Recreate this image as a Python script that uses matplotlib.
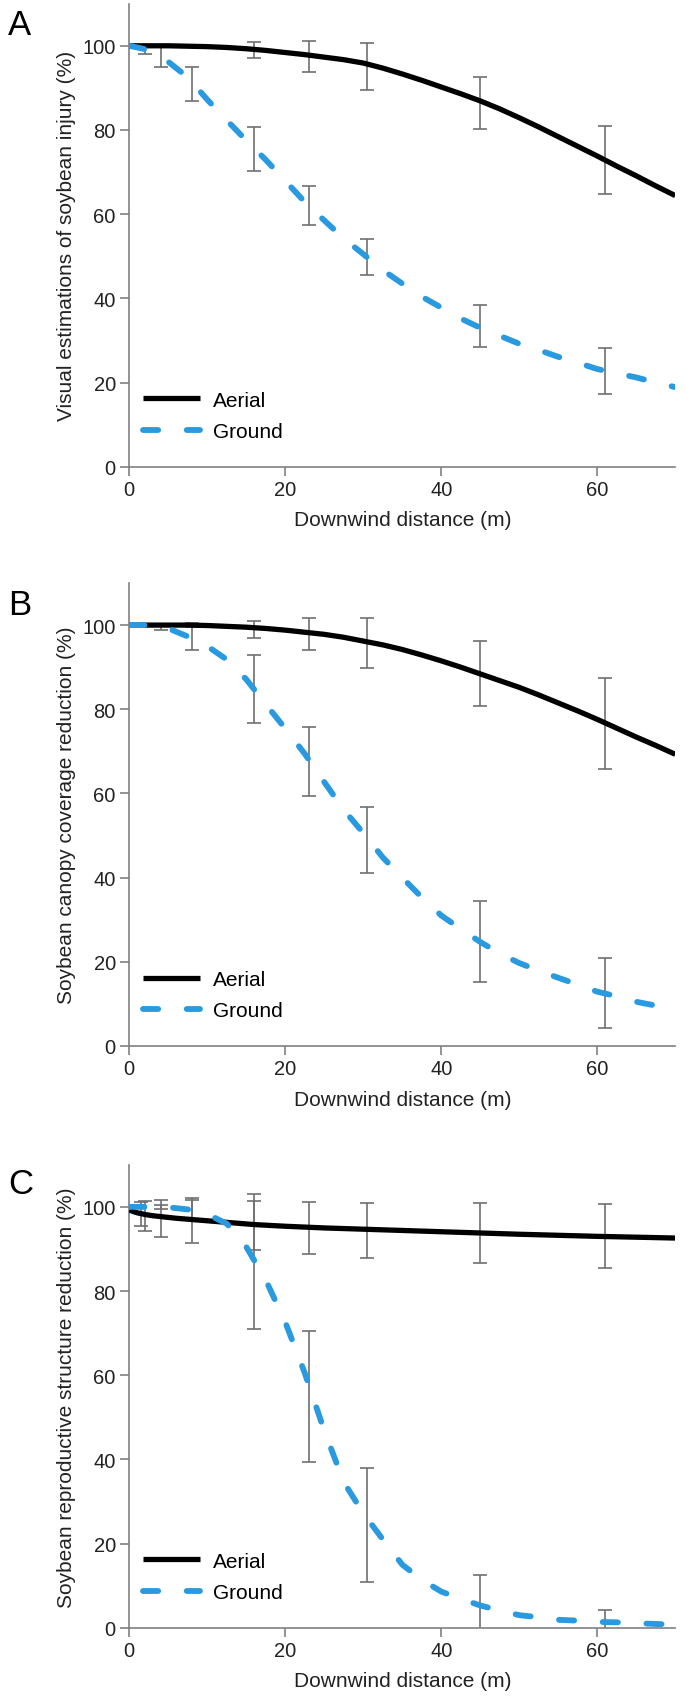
import numpy as np
import matplotlib
matplotlib.use("Agg")
import matplotlib.pyplot as plt

plt.rcParams['font.family'] = ['Liberation Sans', 'DejaVu Sans']

step_x = np.arange(0, 70.1, 2.5)

a_aer_fit = [100, 100, 100, 99.9, 99.8, 99.6, 99.3, 98.9, 98.4, 97.9, 97.3, 96.7, 95.9, 94.7, 93.3,
             91.8, 90.2, 88.6, 86.9, 85.0, 82.9, 80.7, 78.4, 76.1, 73.8, 71.4, 69.1, 66.7, 64.4]
a_gnd_fit = [100, 99, 96.2, 92.5, 87.2, 82.3, 77.5, 72.9, 67.9, 62.9, 58.5, 54.2, 50.5, 46.7, 43.5,
             40.4, 37.8, 35.2, 33.0, 31.1, 29.2, 27.7, 26.1, 24.7, 23.2, 22.2, 21.2, 20.0, 18.9]

b_aer_fit = [100, 100, 100, 100, 99.9, 99.7, 99.5, 99.2, 98.8, 98.3, 97.8, 97.1, 96.2, 95.3, 94.2,
             92.9, 91.5, 90.0, 88.4, 86.8, 85.2, 83.4, 81.5, 79.6, 77.6, 75.5, 73.4, 71.4, 69.3]
b_gnd_fit = [100, 100, 99.2, 97.3, 95.0, 91.8, 87.1, 81.2, 75.4, 69.4, 62.7, 56.1, 50.6, 44.8, 40.0,
             35.3, 31.0, 27.8, 24.7, 22.0, 19.7, 17.9, 16.2, 14.6, 12.9, 11.8, 10.5, 9.6, 8.8]

c_aer_x = [0, 0.5, 1, 2, 3, 4, 6, 8, 12, 16, 20, 25, 30, 40, 50, 60, 70]
c_aer_fit = [99.3, 98.9, 98.6, 98.2, 97.9, 97.7, 97.3, 97.0, 96.4, 95.8, 95.4, 95.0, 94.7, 94.1,
             93.5, 93.0, 92.6]
c_gnd_fit = [100, 100, 99.9, 99.4, 98.3, 96.0, 90.5, 82.6, 72.6, 60.5, 46.8, 34.6, 27.2, 21.0, 15.0,
             11.4, 8.6, 6.9, 5.3, 4.1, 3.0, 2.5, 1.9, 1.7, 1.4, 1.3, 1.1, 0.9, 0.8]

# error bars: low / high ends
a_aer_x = [16, 23, 30.5, 45, 61]
a_aer_lo = [97.0, 93.8, 89.5, 80.2, 64.8]
a_aer_hi = [100.8, 101.2, 100.6, 92.6, 81.0]
a_gnd_x = [2, 4, 8, 16, 23, 30.5, 45, 61]
a_gnd_lo = [98.0, 95.0, 86.9, 70.2, 57.4, 45.5, 28.4, 17.3]
a_gnd_hi = [99.6, 100.3, 95.0, 80.8, 66.6, 54.1, 38.5, 28.1]

b_aer_x = [8, 16, 23, 30.5, 45, 61]
b_aer_lo = [99.5, 97.0, 94.1, 89.8, 80.7, 65.9]
b_aer_hi = [100.5, 100.9, 101.6, 101.6, 96.3, 87.4]
b_gnd_x = [4, 8, 16, 23, 30.5, 45, 61]
b_gnd_lo = [98.9, 94.1, 76.7, 59.3, 41.2, 15.2, 4.2]
b_gnd_hi = [100.3, 100.2, 92.8, 75.8, 56.7, 34.5, 21.0]

c_aerb_x = [1.5, 4, 8, 16, 23, 30.5, 45, 61]
c_aer_lo = [95.4, 92.9, 91.5, 89.8, 88.7, 87.8, 86.6, 85.5]
c_aer_hi = [101.1, 101.6, 101.6, 103.1, 101.2, 101.0, 101.0, 100.6]
c_gnd_x = [2, 4, 8, 16, 23, 30.5, 45, 61]
c_gnd_lo = [94.3, 99.4, 97.0, 70.9, 39.5, 11.0, -3.0, -2.0]
c_gnd_hi = [101.3, 100.4, 102.0, 101.4, 70.5, 37.9, 12.6, 4.3]

ylabels = ["Visual estimations of soybean injury (%)",
           "Soybean canopy coverage reduction (%)",
           "Soybean reproductive structure reduction (%)"]
letters = ["A", "B", "C"]

blue = '#2A9AE0'
gray = '#707070'

fig = plt.figure(figsize=(6.85, 16.99), dpi=100)
W, H = 685.0, 1699.0

panels = [
    (467.7, step_x, a_aer_fit, step_x, a_gnd_fit,
     (a_aer_x, a_aer_lo, a_aer_hi), (a_gnd_x, a_gnd_lo, a_gnd_hi), 34.7),
    (1047.0, step_x, b_aer_fit, step_x, b_gnd_fit,
     (b_aer_x, b_aer_lo, b_aer_hi), (b_gnd_x, b_gnd_lo, b_gnd_hi), 614.6),
    (1628.8, c_aer_x, c_aer_fit, step_x, c_gnd_fit,
     (c_aerb_x, c_aer_lo, c_aer_hi), (c_gnd_x, c_gnd_lo, c_gnd_hi), 1194.5),
]

for i, (y0, ax_x, ax_y, gx, gy, aer_eb, gnd_eb, let_y) in enumerate(panels):
    ax = fig.add_axes([129.3 / W, 1 - y0 / H, 546 / W, 463 / H])

    for bx, lo, hi in (aer_eb, gnd_eb):
        lo = np.array(lo); hi = np.array(hi)
        ax.errorbar(bx, (lo + hi) / 2, yerr=(hi - lo) / 2, fmt='none',
                    ecolor=gray, elinewidth=1.2, capsize=5, capthick=1.2, zorder=2)

    ax.plot(ax_x, ax_y, color='black', lw=3.8, solid_capstyle='butt',
            solid_joinstyle='round', label='Aerial', zorder=3)
    ax.plot(gx, gy, color=blue, lw=4.2, dashes=(2.6, 4.9),
            dash_capstyle='round', label='Ground', zorder=3)

    ax.set_xlim(0, 70)
    ax.set_ylim(0, 110)
    ax.set_xticks([0, 20, 40, 60])
    ax.set_yticks([0, 20, 40, 60, 80, 100])
    for s in ['top', 'right']:
        ax.spines[s].set_visible(False)
    for s in ['left', 'bottom']:
        ax.spines[s].set_color('#808080')
        ax.spines[s].set_linewidth(1.2)
    ax.tick_params(direction='out', length=6.2, width=1.2, color='#808080',
                   labelsize=14.5, labelcolor='#222222', pad=3.5)
    ax.set_xlabel("Downwind distance (m)", fontsize=15, color='#222222', labelpad=8)
    ax.set_ylabel(ylabels[i], fontsize=15, color='#222222', labelpad=5)

    ax.legend(loc='center left', bbox_to_anchor=(0.01, 0.11), frameon=False,
              fontsize=15, handlelength=2.74, handletextpad=0.63,
              labelspacing=0.6, borderaxespad=0, borderpad=0.4)

    fig.text(8 / W, 1 - let_y / H, letters[i], fontsize=25, va='baseline',
             ha='left', color='black')

fig.savefig("out.png", dpi=100)
